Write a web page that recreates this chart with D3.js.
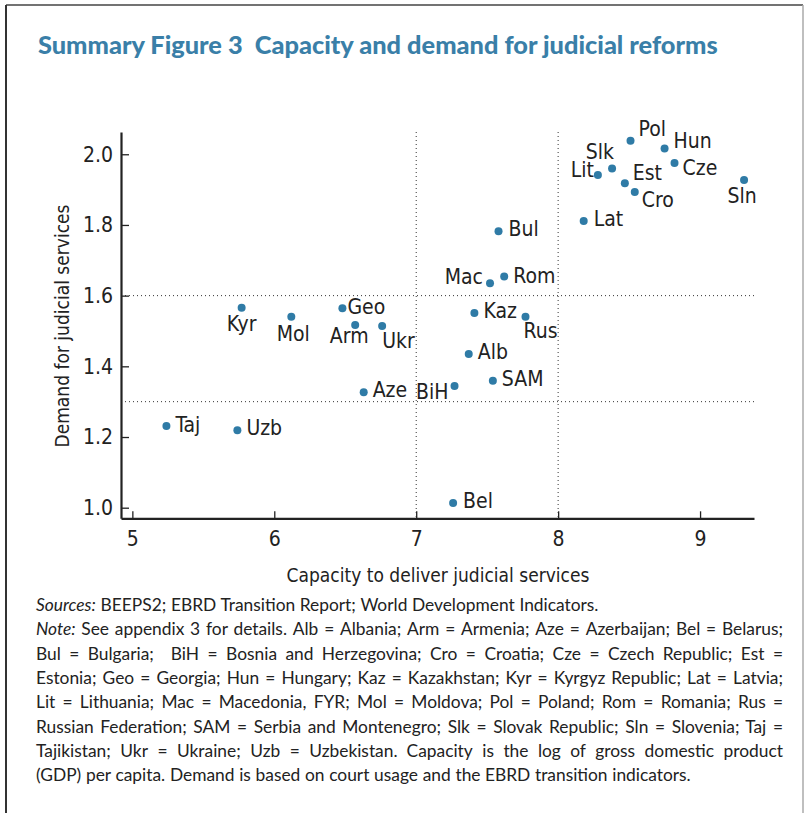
<!DOCTYPE html>
<html>
<head>
<meta charset="utf-8">
<script src="https://cdn.jsdelivr.net/npm/d3@7"></script>
<style>
  body { margin: 0; background: #fff; }
  svg { display: block; }
  .chart-text { font-family: "Liberation Sans Narrow", "DejaVu Sans Condensed", sans-serif; fill: #222; }
  .note-text { font-family: Lato, "Open Sans", sans-serif; fill: #222; font-size: 16px; }
</style>
</head>
<body>
<svg width="805" height="813"></svg>
<script>
var width = 805,
    height = 813;

// country codes, capacity (log GDP per capita) and demand
var codes    = ["Kyr", "Mol", "Geo", "Arm", "Ukr", "Aze", "Taj", "Uzb",
                "Pol", "Hun", "Slk", "Lit", "Est", "Cze", "Cro", "Sln", "Lat",
                "Bul", "Mac", "Rom", "Kaz", "Rus", "Alb", "SAM", "BiH", "Bel"];
var capacity = [5.77, 6.12, 6.48, 6.57, 6.76, 6.63, 5.24, 5.74,
                8.51, 8.75, 8.38, 8.28, 8.47, 8.82, 8.54, 9.31, 8.18,
                7.58, 7.52, 7.62, 7.41, 7.77, 7.37, 7.54, 7.27, 7.26];
var demand   = [1.566, 1.540, 1.564, 1.517, 1.514, 1.327, 1.231, 1.219,
                2.038, 2.016, 1.960, 1.941, 1.918, 1.975, 1.893, 1.927, 1.811,
                1.782, 1.635, 1.654, 1.551, 1.540, 1.435, 1.359, 1.344, 1.013];

var xTicks = [5, 6, 7, 8, 9];
var yTicks = [1.0, 1.2, 1.4, 1.6, 1.8, 2.0];
var xRefLines = [7, 8];
var yRefLines = [1.3, 1.6];

// label placement: [dx, dy, anchor]
var labelOffsets = {
    Kyr: [0, 23, "middle"], Mol: [2, 24, "middle"], Geo: [5, 6, "start"],
    Arm: [-6, 18, "middle"], Ukr: [0, 22, "start"], Aze: [9, 5, "start"],
    Taj: [9, 6, "start"], Uzb: [9, 5, "start"], Pol: [8, -5, "start"],
    Hun: [9, -1, "start"], Slk: [2, -9, "end"], Lit: [-4, 2, "end"],
    Est: [8, -3, "start"], Cze: [8, 12, "start"], Cro: [7, 15, "start"],
    Sln: [-2, 23, "middle"], Lat: [10, 5, "start"], Bul: [10, 5, "start"],
    Mac: [-7, 1, "end"], Rom: [9, 6, "start"], Kaz: [9, 5, "start"],
    Rus: [-2, 21, "start"], Alb: [9, 5, "start"], SAM: [9, 5, "start"],
    BiH: [-6, 13, "end"], Bel: [10, 5, "start"]
};

var noteLines = [
    {italic: "Sources:", text: "BEEPS2; EBRD Transition Report; World Development Indicators.", justify: false},
    {italic: "Note:", text: "See appendix 3 for details. Alb = Albania; Arm = Armenia; Aze = Azerbaijan; Bel = Belarus;", justify: true},
    {italic: "", text: "Bul = Bulgaria;  BiH = Bosnia and Herzegovina; Cro = Croatia; Cze = Czech Republic; Est =", justify: true},
    {italic: "", text: "Estonia; Geo = Georgia; Hun = Hungary; Kaz = Kazakhstan; Kyr = Kyrgyz Republic; Lat = Latvia;", justify: true},
    {italic: "", text: "Lit = Lithuania; Mac = Macedonia, FYR; Mol = Moldova; Pol = Poland; Rom = Romania; Rus =", justify: true},
    {italic: "", text: "Russian Federation; SAM = Serbia and Montenegro; Slk = Slovak Republic; Sln = Slovenia; Taj =", justify: true},
    {italic: "", text: "Tajikistan; Ukr = Ukraine; Uzb = Uzbekistan. Capacity is the log of gross domestic product", justify: true},
    {italic: "", text: "(GDP) per capita. Demand is based on court usage and the EBRD transition indicators.", justify: false}
];

var data = codes.map(function(c, i) {
    return {code: c, x: capacity[i], y: demand[i]};
});

var svg = d3.select("svg");

////////////////////////
// Frame
////////////////////////

svg.append("line").attr("x1", 6).attr("y1", 5).attr("x2", 803).attr("y2", 5)
    .attr("stroke", "#444").attr("stroke-width", 1.5);
svg.append("line").attr("x1", 6).attr("y1", 5).attr("x2", 6).attr("y2", height)
    .attr("stroke", "#333").attr("stroke-width", 2);
svg.append("line").attr("x1", 803).attr("y1", 5).attr("x2", 803).attr("y2", height)
    .attr("stroke", "#aaa").attr("stroke-width", 1.5);

////////////////////////
// Title
////////////////////////

var title = svg.append("text")
    .attr("x", 38)
    .attr("y", 54)
    .attr("fill", "#3a7fa8")
    .style("font-family", "Lato, 'Open Sans', sans-serif")
    .style("font-weight", "900")
    .style("font-size", "22px")
    .attr("xml:space", "preserve")
    .text("Summary Figure 3  Capacity and demand for judicial reforms");
var tw = title.node().getComputedTextLength();
title.style("font-size", (22 * 680 / tw) + "px");

////////////////////////
// Scales and axes
////////////////////////

var x = d3.scaleLinear().domain([4.92, 9.38]).range([121, 754]);
var y = d3.scaleLinear().domain([0.97, 2.063]).range([518.3, 132]);

svg.selectAll(".xref")
    .data(xRefLines)
    .enter()
    .append("line")
    .attr("x1", function(d) { return x(d); })
    .attr("x2", function(d) { return x(d); })
    .attr("y1", y.range()[1])
    .attr("y2", y.range()[0])
    .attr("stroke", "#333")
    .attr("stroke-width", 1)
    .attr("stroke-dasharray", "1,3");

svg.selectAll(".yref")
    .data(yRefLines)
    .enter()
    .append("line")
    .attr("x1", x.range()[0])
    .attr("x2", x.range()[1])
    .attr("y1", function(d) { return y(d); })
    .attr("y2", function(d) { return y(d); })
    .attr("stroke", "#333")
    .attr("stroke-width", 1)
    .attr("stroke-dasharray", "1,3");

var xAxis = svg.append("g")
    .attr("transform", "translate(0," + y.range()[0] + ")")
    .call(d3.axisBottom(x).tickValues(xTicks).tickSize(-7).tickSizeOuter(0).tickPadding(13)
        .tickFormat(d3.format("d")));

var yAxis = svg.append("g")
    .attr("transform", "translate(" + x.range()[0] + ",0)")
    .call(d3.axisLeft(y).tickValues(yTicks).tickSize(-8).tickSizeOuter(0).tickPadding(8)
        .tickFormat(d3.format(".1f")));

[xAxis, yAxis].forEach(function(ax) {
    ax.select(".domain").attr("stroke", "#222").attr("stroke-width", 2.2);
    ax.selectAll(".tick line").attr("stroke", "#222").attr("stroke-width", 1.3);
    ax.selectAll(".tick text")
        .attr("class", "chart-text")
        .style("font-size", "21px")
        .attr("fill", "#222");
});

svg.append("text")
    .attr("class", "chart-text")
    .attr("x", 438)
    .attr("y", 582)
    .attr("text-anchor", "middle")
    .style("font-size", "19px")
    .text("Capacity to deliver judicial services");

svg.append("text")
    .attr("class", "chart-text")
    .attr("transform", "translate(69,326) rotate(-90)")
    .attr("text-anchor", "middle")
    .style("font-size", "19px")
    .text("Demand for judicial services");

////////////////////////
// Points and labels
////////////////////////

svg.selectAll(".dot")
    .data(data)
    .enter()
    .append("circle")
    .attr("cx", function(d) { return x(d.x); })
    .attr("cy", function(d) { return y(d.y); })
    .attr("r", 4)
    .attr("fill", "#2f7ba6");

svg.selectAll(".label")
    .data(data)
    .enter()
    .append("text")
    .attr("class", "chart-text")
    .style("font-size", "21px")
    .attr("x", function(d) { return x(d.x) + labelOffsets[d.code][0]; })
    .attr("y", function(d) { return y(d.y) + labelOffsets[d.code][1]; })
    .attr("text-anchor", function(d) { return labelOffsets[d.code][2]; })
    .text(function(d) { return d.code; });

////////////////////////
// Notes (justified)
////////////////////////

var noteLeft = 36, noteRight = 783, noteTop = 611, noteStep = 24.3;

// size the note font so the last (unjustified) line ends where it does in print
var probe = svg.append("text").attr("class", "note-text")
    .text(noteLines[noteLines.length - 1].text);
var noteSize = 16 * 652 / probe.node().getComputedTextLength();
probe.remove();

noteLines.forEach(function(line, i) {
    var t = svg.append("text")
        .attr("class", "note-text")
        .style("font-size", noteSize + "px")
        .attr("y", noteTop + i * noteStep);
    var words = [];
    if (line.italic) words.push({w: line.italic, it: true});
    line.text.split(" ").forEach(function(w) { words.push({w: w, it: false}); });
    var spans = words.map(function(wd) {
        return t.append("tspan")
            .style("font-style", wd.it ? "italic" : "normal")
            .text(wd.w);
    });
    var widths = spans.map(function(s) { return s.node().getComputedTextLength(); });
    var total = d3.sum(widths);
    var gap = line.justify ? (noteRight - noteLeft - total) / (words.length - 1) : noteSize * 0.27;
    var cx = noteLeft;
    spans.forEach(function(s, k) {
        s.attr("x", cx);
        cx += widths[k] + gap;
    });
});
</script>
</body>
</html>
